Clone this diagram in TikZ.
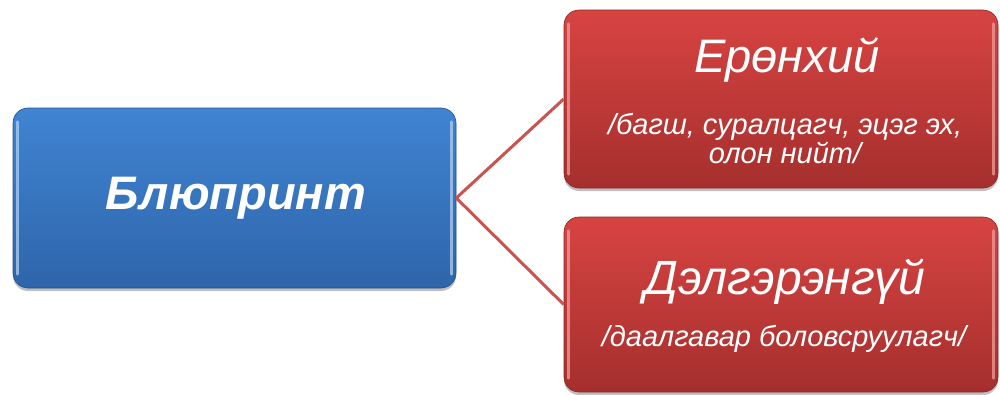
\documentclass[tikz,border=0pt]{standalone}
\usepackage{fontspec}
\setmainfont{Liberation Sans}
\usetikzlibrary{shadows}
\definecolor{bluetop}{HTML}{4084D2}
\definecolor{bluebot}{HTML}{2E65AA}
\definecolor{redtop}{HTML}{D74442}
\definecolor{redbot}{HTML}{A52F2D}
\definecolor{linkred}{HTML}{C9534F}
\tikzset{
  box/.style={rounded corners=15pt, inner sep=0pt,
    drop shadow={shadow xshift=0pt, shadow yshift=-3pt, opacity=0.25, fill=black}},
  bluebox/.style={box, top color=bluetop, bottom color=bluebot, draw=bluebot!80!black, line width=0.6pt},
  redbox/.style={box, top color=redtop, bottom color=redbot, draw=redbot!80!black, line width=0.6pt},
  link/.style={draw=linkred, line width=3pt},
  hlblue/.style={draw=white!55!bluetop, line width=2.5pt, line cap=round, opacity=0.8},
  hlred/.style={draw=white!45!redtop, line width=2.5pt, line cap=round, opacity=0.8},
  title/.style={text=white, font=\fontsize{47}{52}\selectfont\itshape, inner sep=0pt},
  sub/.style={text=white, font=\fontsize{29}{29}\selectfont\itshape, inner sep=0pt, align=center},
}
\begin{document}
\begin{tikzpicture}[x=1pt,y=-1pt]
\useasboundingbox (0,0) rectangle (1000,394);
\node[bluebox, minimum width=443pt, minimum height=180pt] (b) at (234.5,198) {};
\node[redbox, minimum width=434pt, minimum height=178pt] (r1) at (781,99) {};
\node[redbox, minimum width=434pt, minimum height=175pt] (r2) at (781,304.5) {};
\draw[hlblue] ([xshift=5pt,yshift=-14pt]b.north west) -- ([xshift=5pt,yshift=14pt]b.south west);
\draw[hlblue] ([xshift=-5pt,yshift=-14pt]b.north east) -- ([xshift=-5pt,yshift=14pt]b.south east);
\foreach \r in {r1,r2}{
  \draw[hlred] ([xshift=5pt,yshift=-14pt]\r.north west) -- ([xshift=5pt,yshift=14pt]\r.south west);
  \draw[hlred] ([xshift=-5pt,yshift=-14pt]\r.north east) -- ([xshift=-5pt,yshift=14pt]\r.south east);
}
\draw[link] (b.east) -- (r1.west);
\draw[link] (b.east) -- (r2.west);
\node[title, font=\fontsize{47}{52}\selectfont\bfseries\itshape] (t0) at (236,198) {Блюпринт};
\node[title] (t1) at (787,60) {Ерөнхий};
\node[sub] (s1) at (785,139) {/багш, суралцагч, эцэг эх,\\олон нийт/};
\node[title, font=\fontsize{48}{52}\selectfont\itshape] (t2) at (785,282) {Дэлгэрэнгүй};
\node[sub] (s2) at (784,339) {/даалгавар боловсруулагч/};
\end{tikzpicture}
\end{document}
